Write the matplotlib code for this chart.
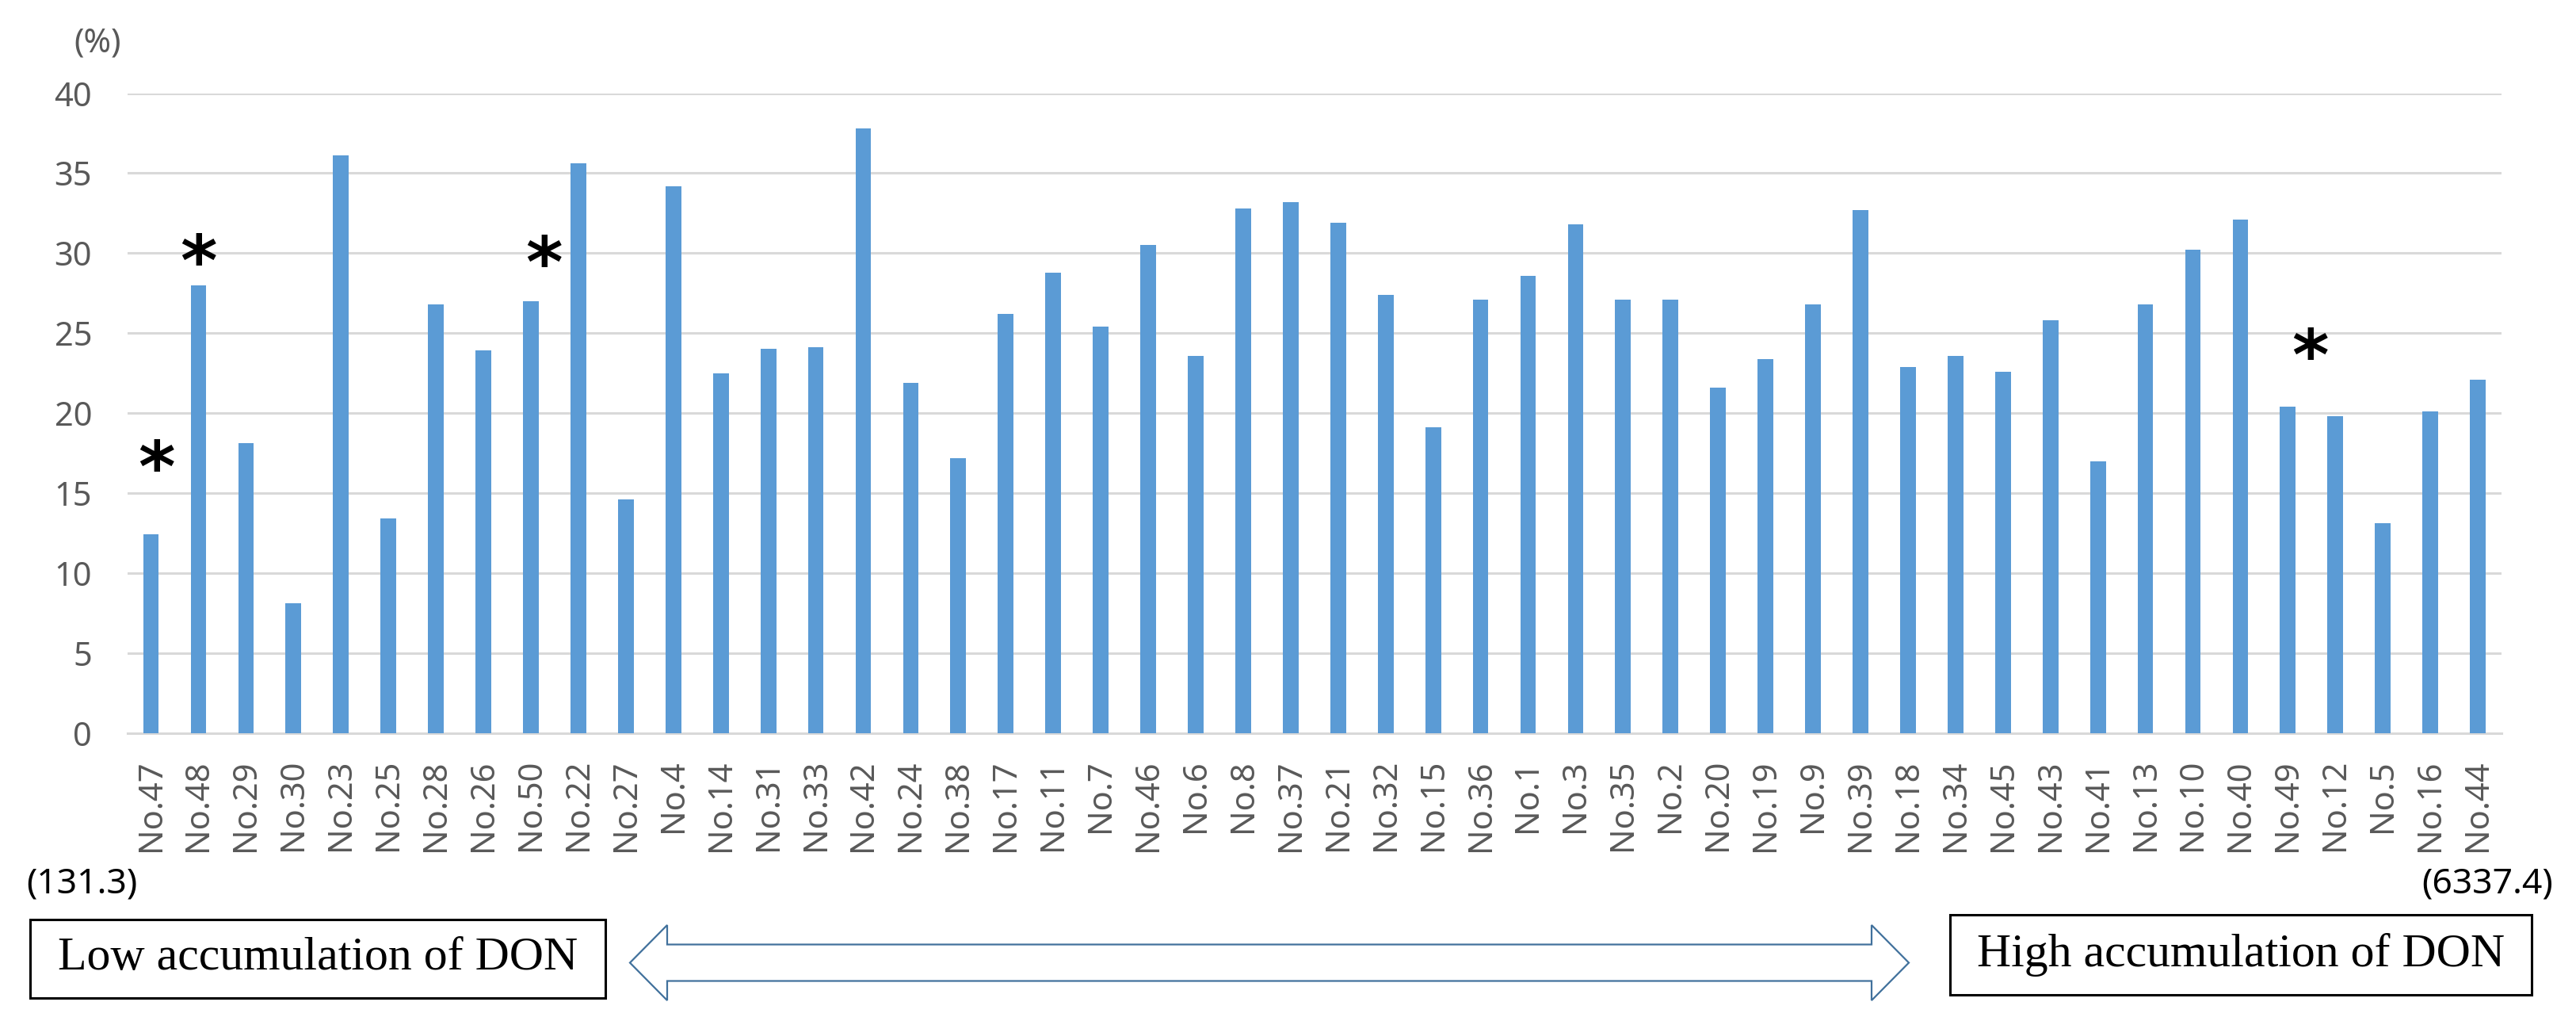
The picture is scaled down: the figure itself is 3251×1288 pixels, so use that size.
import matplotlib
matplotlib.use("Agg")
import matplotlib.pyplot as plt
from matplotlib.patches import Rectangle, Polygon

# samples, ordered from low to high DON accumulation
labels = ["No.47", "No.48", "No.29", "No.30", "No.23", "No.25", "No.28", "No.26",
          "No.50", "No.22", "No.27", "No.4", "No.14", "No.31", "No.33", "No.42",
          "No.24", "No.38", "No.17", "No.11", "No.7", "No.46", "No.6", "No.8",
          "No.37", "No.21", "No.32", "No.15", "No.36", "No.1", "No.3", "No.35",
          "No.2", "No.20", "No.19", "No.9", "No.39", "No.18", "No.34", "No.45",
          "No.43", "No.41", "No.13", "No.10", "No.40", "No.49", "No.12", "No.5",
          "No.16", "No.44"]
values = [12.4, 28.0, 18.1, 8.1, 36.1, 13.4, 26.8, 23.9,
          27.0, 35.6, 14.6, 34.2, 22.5, 24.0, 24.1, 37.8,
          21.9, 17.2, 26.2, 28.8, 25.4, 30.5, 23.6, 32.8,
          33.2, 31.9, 27.4, 19.1, 27.1, 28.6, 31.8, 27.1,
          27.1, 21.6, 23.4, 26.8, 32.7, 22.9, 23.6, 22.6,
          25.8, 17.0, 26.8, 30.2, 32.1, 20.4, 19.8, 13.1,
          20.1, 22.1]

# significance marks: (sample, x offset in bar slots, height in %)
star_samples = ["No.47", "No.48", "No.50", "No.49"]
star_dx = [0.12, 0.0, 0.27, 0.47]
star_y = [17.3, 30.2, 30.1, 24.3]

range_low = "(131.3)"
range_high = "(6337.4)"
box_low = "Low accumulation of DON"
box_high = "High accumulation of DON"

W, H = 3251, 1288
BAR = "#5B9BD5"
GRID = "#D9D9D9"
TXT = "#595959"
ARROW = "#41719C"


def fx(x):
    return x / W


def fy(y):
    return 1 - y / H


fig = plt.figure(figsize=(W / 100, H / 100), dpi=100)
ax = fig.add_axes([fx(160.6), fy(924.7), fx(3157 - 160.6), (924.7 - 117.6) / H])

x = range(len(labels))
ax.bar(x, values, width=0.33, color=BAR, zorder=3)
ax.set_xlim(-0.5, len(labels) - 0.5)
ax.set_ylim(0, 40)
ax.set_yticks(range(0, 41, 5))
ax.set_xticks(list(x))
ax.set_xticklabels(labels, rotation=90, va="top")
ax.yaxis.grid(True, color=GRID, lw=2.2, zorder=0)
ax.set_axisbelow(True)
for s in ax.spines.values():
    s.set_visible(False)
ax.axhline(0, color=GRID, lw=2.2, zorder=1, clip_on=False)
ax.tick_params(axis="both", length=0, labelcolor=TXT, labelsize=30)
ax.tick_params(axis="y", pad=32)
ax.tick_params(axis="x", pad=24)
for t in ax.get_xticklabels() + ax.get_yticklabels():
    t.set_fontfamily("Noto Sans")

# the "*" glyph sits high in its line box, so shift it down a little
for name, dx, yy in zip(star_samples, star_dx, star_y):
    ax.text(labels.index(name) + dx, yy - 1.0, "*", ha="center", va="center",
            fontsize=64, fontweight="bold", family="DejaVu Sans", color="black")

fig.text(fx(123), fy(54), "(%)", ha="center", va="center", fontsize=30,
         color=TXT, family="Noto Sans")

fig.text(fx(33), fy(1116), range_low, ha="left", va="center", fontsize=32,
         color="black", family="Noto Sans")
fig.text(fx(3222), fy(1116), range_high, ha="right", va="center", fontsize=32,
         color="black", family="Noto Sans")

# labelled boxes
for (x0, y0, x1, y1), txt in [((38, 1160, 764, 1259), box_low),
                              ((2461, 1154, 3195, 1255), box_high)]:
    fig.patches.append(Rectangle((fx(x0), fy(y1)), fx(x1 - x0), (y1 - y0) / H,
                                 transform=fig.transFigure, fill=False,
                                 ec="black", lw=2.2))
    fig.text(fx((x0 + x1) / 2), fy((y0 + y1) / 2), txt, ha="center", va="center",
             fontsize=43, family="Liberation Serif", color="black")

# double-headed block arrow between the boxes
xl, xr, yc = 795, 2409, 1214.5
head_len, head_h, shaft_h = 47, 47.5, 23
pts = [(xl, yc), (xl + head_len, yc - head_h), (xl + head_len, yc - shaft_h),
       (xr - head_len, yc - shaft_h), (xr - head_len, yc - head_h), (xr, yc),
       (xr - head_len, yc + head_h), (xr - head_len, yc + shaft_h),
       (xl + head_len, yc + shaft_h), (xl + head_len, yc + head_h)]
fig.patches.append(Polygon([(fx(a), fy(b)) for a, b in pts], closed=True,
                           transform=fig.transFigure, fc="white", ec=ARROW, lw=1.6))

fig.savefig("out.png", dpi=100)
